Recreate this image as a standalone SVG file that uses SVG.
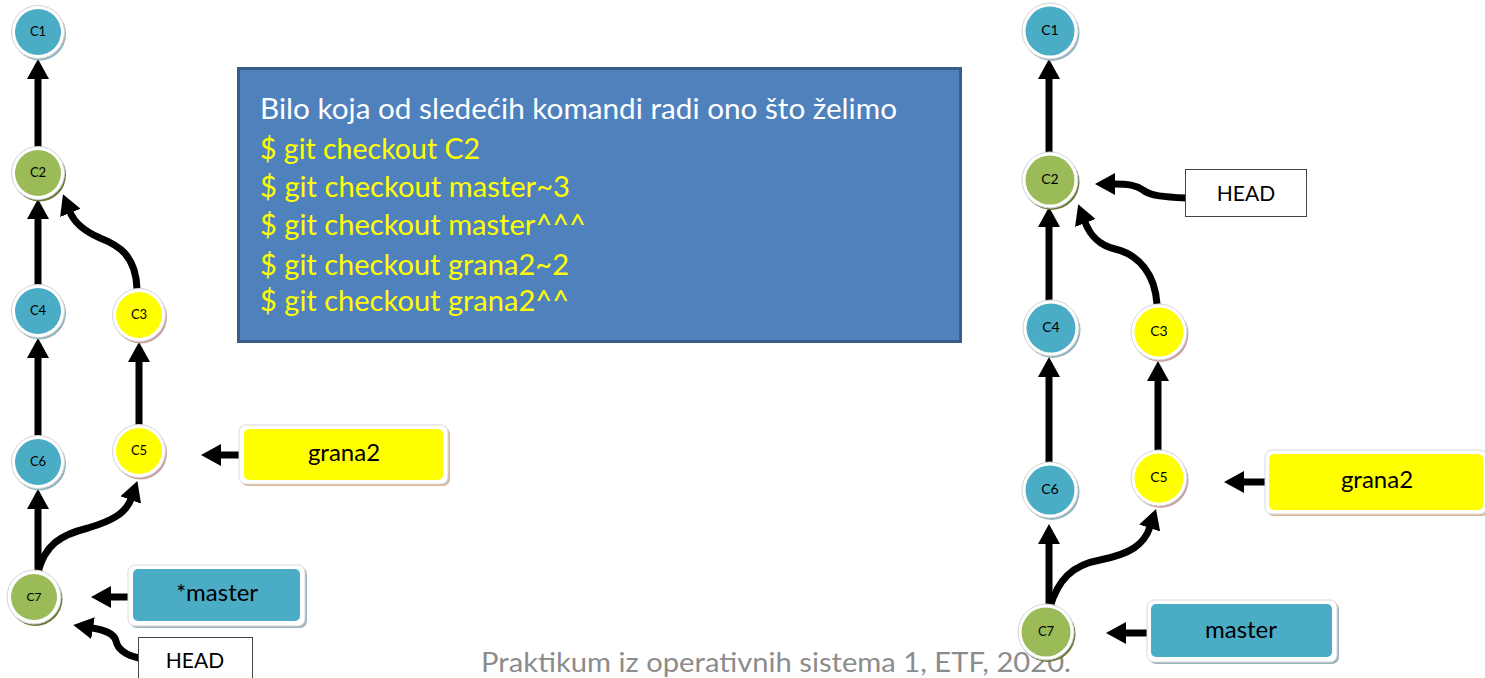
<svg xmlns="http://www.w3.org/2000/svg" width="1485" height="678" viewBox="0 0 1485 678">
  <defs>
    <style>
      .ring { fill: #ffffff; stroke: #d4d4d4; stroke-width: 1; }
      .blue { fill: #4BACC6; }
      .green { fill: #9BBB59; }
      .yellow { fill: #FFFF00; }
      .sh-blue { fill: #8fb3c0; }
      .sh-green { fill: #6b7a3c; }
      .sh-yellow { fill: #c9a0a0; }
      .nl { font-family: Lato, "Open Sans", "Liberation Sans", sans-serif; font-size: 13px; fill: #000; text-anchor: middle; }
      .bl { font-family: Lato, "Open Sans", "Liberation Sans", sans-serif; font-size: 24px; fill: #000; text-anchor: middle; }
      .edge { fill: none; stroke: #000; stroke-width: 7; marker-end: url(#head); }
      .boxframe { fill: #ffffff; stroke: #d9d9d9; stroke-width: 1; }
      .plain { fill: #ffffff; stroke: #444; stroke-width: 1; }
      .cmd { font-family: Lato, "Open Sans", "Liberation Sans", sans-serif; font-size: 28px; fill: #FFFF00; }
      .title { font-family: Lato, "Open Sans", "Liberation Sans", sans-serif; font-size: 28px; fill: #ffffff; }
      .foot { font-family: Lato, "Open Sans", "Liberation Sans", sans-serif; font-size: 27px; fill: #8c8c8c; }
    </style>
    <marker id="head" viewBox="0 0 20 22" refX="1" refY="11" markerWidth="20" markerHeight="22" markerUnits="userSpaceOnUse" orient="auto">
      <path d="M0,0 L20,11 L0,22 z" fill="#000"/>
    </marker>
  </defs>

  <rect width="1485" height="678" fill="#ffffff"/>

  <!-- footer -->
  <text class="foot" x="481" y="672" textLength="590" lengthAdjust="spacingAndGlyphs">Praktikum iz operativnih sistema 1, ETF, 2020.</text>

  <!-- command panel -->
  <g id="commands">
    <rect x="238.5" y="68.5" width="722" height="273" fill="#4F81BD" stroke="#385D8A" stroke-width="3"/>
    <text class="title" x="260" y="119" textLength="637" lengthAdjust="spacingAndGlyphs">Bilo koja od sledećih komandi radi ono što želimo</text>
    <text class="cmd" x="260" y="159" textLength="220" lengthAdjust="spacingAndGlyphs">$ git checkout C2</text>
    <text class="cmd" x="260" y="197" textLength="310" lengthAdjust="spacingAndGlyphs">$ git checkout master~3</text>
    <text class="cmd" x="260" y="235" textLength="326" lengthAdjust="spacingAndGlyphs">$ git checkout master^^^</text>
    <text class="cmd" x="260" y="275" textLength="309" lengthAdjust="spacingAndGlyphs">$ git checkout grana2~2</text>
    <text class="cmd" x="260" y="311" textLength="309" lengthAdjust="spacingAndGlyphs">$ git checkout grana2^^</text>
  </g>

  <!-- connectors -->
  <g id="connectors">
    <!-- left graph -->
    <path class="edge" d="M38,147 L38,78"/>
    <path class="edge" d="M38,285 L38,218"/>
    <path class="edge" d="M38,437 L38,357"/>
    <path class="edge" d="M38,571 L38,508"/>
    <path class="edge" d="M139,425 L139,361"/>
    <path class="edge" d="M137,289 C136,255 118,245 100,238 C84,231 74,222 70,212"/>
    <path class="edge" d="M38,572 C45,545 60,535 88,528 C112,521 126,513 131,499"/>
    <path class="edge" d="M131,597 L110,597"/>
    <path class="edge" d="M139,658 C125,655 118,650 116,641 C114,633 104,630 92,628"/>
    <path class="edge" d="M241,455 L220,455"/>
    <!-- right graph -->
    <path class="edge" d="M1049,153 L1049,78"/>
    <path class="edge" d="M1049,301 L1049,226"/>
    <path class="edge" d="M1049,463 L1049,376"/>
    <path class="edge" d="M1049,606 L1049,543"/>
    <path class="edge" d="M1158,451 L1158,380"/>
    <path class="edge" d="M1157,304 C1155,275 1140,255 1115,249 C1098,245 1090,235 1085,222"/>
    <path class="edge" d="M1050,607 C1058,580 1072,565 1100,560 C1130,554 1144,545 1150,527"/>
    <path class="edge" d="M1186,198 C1165,197 1150,196 1143,190 C1136,185 1128,184 1114,184"/>
    <path class="edge" d="M1266,482 L1243,482"/>
    <path class="edge" d="M1148,633 L1125,633"/>
  </g>

  <!-- left graph nodes -->
  <g id="L-C1"><circle class="sh-blue" cx="39.5" cy="34" r="26.5"/><circle class="ring" cx="38" cy="32" r="26.5"/><circle class="blue" cx="38" cy="32" r="23"/><text class="nl" x="38" y="36">C1</text></g>
  <g id="L-C2"><circle class="sh-green" cx="39.5" cy="175" r="26.5"/><circle class="ring" cx="38" cy="173" r="26.5"/><circle class="green" cx="38" cy="173" r="23"/><text class="nl" x="38" y="177">C2</text></g>
  <g id="L-C4"><circle class="sh-blue" cx="39.5" cy="313" r="26.5"/><circle class="ring" cx="38" cy="311" r="26.5"/><circle class="blue" cx="38" cy="311" r="23"/><text class="nl" x="38" y="315">C4</text></g>
  <g id="L-C3"><circle class="sh-yellow" cx="140.5" cy="317" r="26.5"/><circle class="ring" cx="139" cy="315" r="26.5"/><circle class="yellow" cx="139" cy="315" r="23"/><text class="nl" x="139" y="319">C3</text></g>
  <g id="L-C6"><circle class="sh-blue" cx="39.5" cy="464" r="26.5"/><circle class="ring" cx="38" cy="462" r="26.5"/><circle class="blue" cx="38" cy="462" r="23"/><text class="nl" x="38" y="466">C6</text></g>
  <g id="L-C5"><circle class="sh-yellow" cx="140.5" cy="453" r="26.5"/><circle class="ring" cx="139" cy="451" r="26.5"/><circle class="yellow" cx="139" cy="451" r="23"/><text class="nl" x="139" y="455">C5</text></g>
  <g id="L-C7"><circle class="sh-green" cx="35.5" cy="599" r="27"/><circle class="ring" cx="34" cy="597" r="27"/><circle class="green" cx="34" cy="597" r="23"/><text class="nl" x="34" y="601" style="font-size:12px">C7</text></g>

  <!-- left labels -->
  <g id="L-grana2">
    <rect x="241" y="427" width="209" height="59" rx="7" fill="#d8b89a"/>
    <rect x="239" y="425" width="209" height="59" rx="7" class="boxframe"/>
    <rect x="244" y="429" width="199" height="51" rx="5" class="yellow"/>
    <text class="bl" x="344" y="461">grana2</text>
  </g>
  <g id="L-master">
    <rect x="130" y="567" width="177" height="61" rx="7" fill="#9bb5bf"/>
    <rect x="128" y="565" width="177" height="61" rx="7" class="boxframe"/>
    <rect x="133" y="569" width="167" height="52" rx="5" class="blue"/>
    <text class="bl" x="217" y="601">*master</text>
  </g>
  <g id="L-HEAD">
    <rect x="138.5" y="637.5" width="114" height="50" class="plain"/>
    <text class="bl" x="195" y="668" style="font-size:21px">HEAD</text>
  </g>

  <!-- right graph nodes -->
  <g id="R-C1"><circle class="sh-blue" cx="1051.5" cy="33" r="28"/><circle class="ring" cx="1050" cy="31" r="28"/><circle class="blue" cx="1050" cy="31" r="24.5"/><text class="nl" x="1050" y="35" style="font-size:14px">C1</text></g>
  <g id="R-C2"><circle class="sh-green" cx="1051.5" cy="182" r="28"/><circle class="ring" cx="1050" cy="180" r="28"/><circle class="green" cx="1050" cy="180" r="24.5"/><text class="nl" x="1050" y="184" style="font-size:14px">C2</text></g>
  <g id="R-C4"><circle class="sh-blue" cx="1052.5" cy="330" r="28"/><circle class="ring" cx="1051" cy="328" r="28"/><circle class="blue" cx="1051" cy="328" r="24.5"/><text class="nl" x="1051" y="332" style="font-size:14px">C4</text></g>
  <g id="R-C3"><circle class="sh-yellow" cx="1160.5" cy="334" r="28"/><circle class="ring" cx="1159" cy="332" r="28"/><circle class="yellow" cx="1159" cy="332" r="24.5"/><text class="nl" x="1159" y="336" style="font-size:14px">C3</text></g>
  <g id="R-C6"><circle class="sh-blue" cx="1051.5" cy="492" r="28"/><circle class="ring" cx="1050" cy="490" r="28"/><circle class="blue" cx="1050" cy="490" r="24.5"/><text class="nl" x="1050" y="494" style="font-size:14px">C6</text></g>
  <g id="R-C5"><circle class="sh-yellow" cx="1160.5" cy="480" r="28"/><circle class="ring" cx="1159" cy="478" r="28"/><circle class="yellow" cx="1159" cy="478" r="24.5"/><text class="nl" x="1159" y="482" style="font-size:14px">C5</text></g>
  <g id="R-C7"><circle class="sh-green" cx="1047.5" cy="634" r="28"/><circle class="ring" cx="1046" cy="632" r="28"/><circle class="green" cx="1046" cy="632" r="24.5"/><text class="nl" x="1046" y="636">C7</text></g>

  <!-- right labels -->
  <g id="R-HEAD">
    <rect x="1185.5" y="169.5" width="121" height="47" class="plain"/>
    <text class="bl" x="1246" y="201" style="font-size:21px">HEAD</text>
  </g>
  <g id="R-grana2">
    <rect x="1267" y="452" width="222" height="64" rx="7" fill="#d8b89a"/>
    <rect x="1265" y="450" width="222" height="64" rx="7" class="boxframe"/>
    <rect x="1269" y="454" width="214" height="56" rx="5" class="yellow"/>
    <text class="bl" x="1377" y="488">grana2</text>
  </g>
  <g id="R-master">
    <rect x="1149" y="602" width="190" height="62" rx="7" fill="#9bb5bf"/>
    <rect x="1147" y="600" width="190" height="62" rx="7" class="boxframe"/>
    <rect x="1151" y="604" width="181" height="53" rx="5" class="blue"/>
    <text class="bl" x="1241" y="638">master</text>
  </g>
</svg>
